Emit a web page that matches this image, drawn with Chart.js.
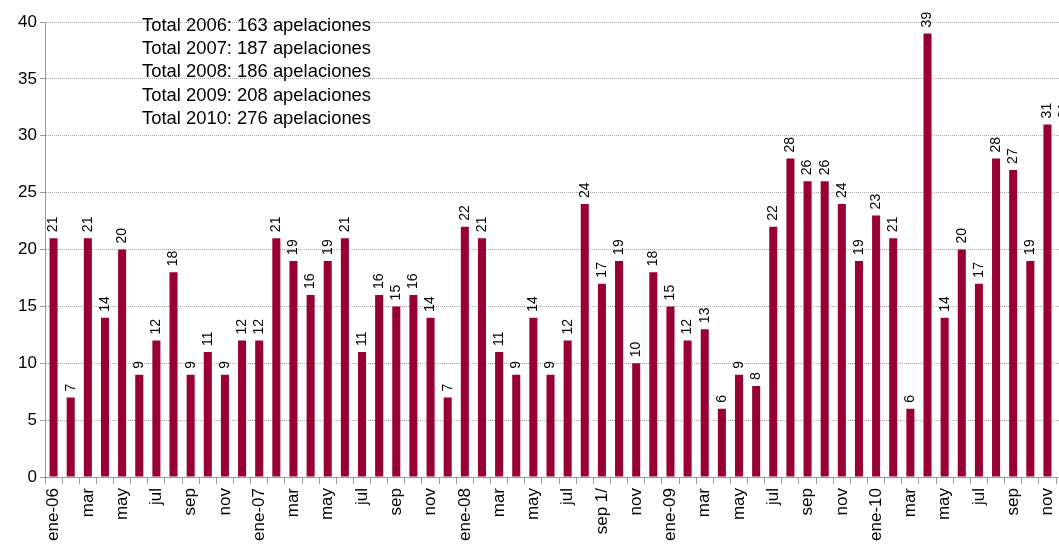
<!DOCTYPE html>
<html>
<head>
<meta charset="utf-8">
<script src="https://cdn.jsdelivr.net/npm/chart.js@4/dist/chart.umd.min.js"></script>
<style>
  html, body { margin: 0; padding: 0; background: #fff; overflow: hidden; width: 1059px; height: 544px; }
  #wrap { position: relative; width: 1059px; height: 544px; overflow: hidden; }
  #myChart { position: absolute; left: 0; top: 0; width: 1089px; height: 544px; }
  #totals {
    position: absolute; left: 142px; top: 13px;
    font-family: "Liberation Sans", Arial, sans-serif; font-size: 18.4px;
    line-height: 23.2px; color: #000; white-space: nowrap;
  }
</style>
</head>
<body>
<div id="wrap">
  <canvas id="myChart" width="1089" height="544" style="width:1089px;height:544px"></canvas>
  <div id="totals"></div>
</div>
<script>
// one label per month, ene-06 .. dic-10 (only every other one is shown)
const months = ["ene-06","feb","mar","abr","may","jun","jul","ago","sep","oct","nov","dic",
                "ene-07","feb","mar","abr","may","jun","jul","ago","sep","oct","nov","dic",
                "ene-08","feb","mar","abr","may","jun","jul","ago","sep 1/","oct","nov","dic",
                "ene-09","feb","mar","abr","may","jun","jul","ago","sep","oct","nov","dic",
                "ene-10","feb","mar","abr","may","jun","jul","ago","sep","oct","nov","dic"];

const apelaciones = [21, 7, 21, 14, 20, 9, 12, 18, 9, 11, 9, 12,
                     12, 21, 19, 16, 19, 21, 11, 16, 15, 16, 14, 7,
                     22, 21, 11, 9, 14, 9, 12, 24, 17, 19, 10, 18,
                     15, 12, 13, 6, 9, 8, 22, 28, 26, 26, 24, 19,
                     23, 21, 6, 39, 14, 20, 17, 28, 27, 19, 31, 31];

const totalLines = ["Total 2006: 163 apelaciones",
                    "Total 2007: 187 apelaciones",
                    "Total 2008: 186 apelaciones",
                    "Total 2009: 208 apelaciones",
                    "Total 2010: 276 apelaciones"];

const yTicks = [0, 5, 10, 15, 20, 25, 30, 35, 40];

const barColor = "#990033";
const fontFam = '"Liberation Sans", Arial, sans-serif';

document.getElementById("totals").innerHTML = totalLines.join("<br>");

// values written upright above each bar
const valueLabels = {
	id: 'valueLabels',
	afterDatasetsDraw(chart) {
		const ctx = chart.ctx;
		const meta = chart.getDatasetMeta(0);
		ctx.save();
		ctx.font = '14px ' + fontFam;
		ctx.fillStyle = '#000';
		ctx.textAlign = 'left';
		ctx.textBaseline = 'middle';
		meta.data.forEach(function(bar, i) {
			ctx.save();
			ctx.translate(bar.x, bar.y - 6);
			ctx.rotate(-Math.PI / 2);
			ctx.fillText(String(apelaciones[i]), 0, 0);
			ctx.restore();
		});
		ctx.restore();
	}
};

let ctx = document.getElementById('myChart').getContext('2d');
let myChart = new Chart(ctx, {
	type: 'bar',
	data: {
		labels: months,
		datasets: [{
			data: apelaciones,
			backgroundColor: barColor,
			borderWidth: 0,
			barPercentage: 1,
			categoryPercentage: 0.47
		}]
	},
	options: {
		responsive: false,
		animation: false,
		layout: { padding: { top: 22, right: 0, left: 0, bottom: 0 } },
		plugins: {
			legend: { display: false },
			tooltip: { enabled: false }
		},
		scales: {
			x: {
				afterFit: function(s) { s.height = 67; },
				border: { color: '#999', width: 1 },
				grid: {
					drawOnChartArea: false,
					color: '#999',
					tickLength: 7,
					offset: true
				},
				ticks: {
					autoSkip: false,
					maxRotation: 90,
					minRotation: 90,
					padding: 4,
					color: '#000',
					font: { family: fontFam, size: 17 },
					callback: function(v, i) { return i % 2 == 0 ? months[i] : ''; }
				}
			},
			y: {
				min: 0,
				max: 40,
				afterFit: function(s) { s.width = 45; },
				afterBuildTicks: function(s) { s.ticks = yTicks.map(v => ({ value: v })); },
				border: { color: '#999', width: 1, dash: [1, 1] },
				grid: {
					color: '#aaa',
					lineWidth: 1,
					tickLength: 5,
					tickColor: '#999'
				},
				ticks: {
					padding: 3,
					color: '#000',
					font: { family: fontFam, size: 17 }
				}
			}
		}
	},
	plugins: [valueLabels]
});
</script>
</body>
</html>
